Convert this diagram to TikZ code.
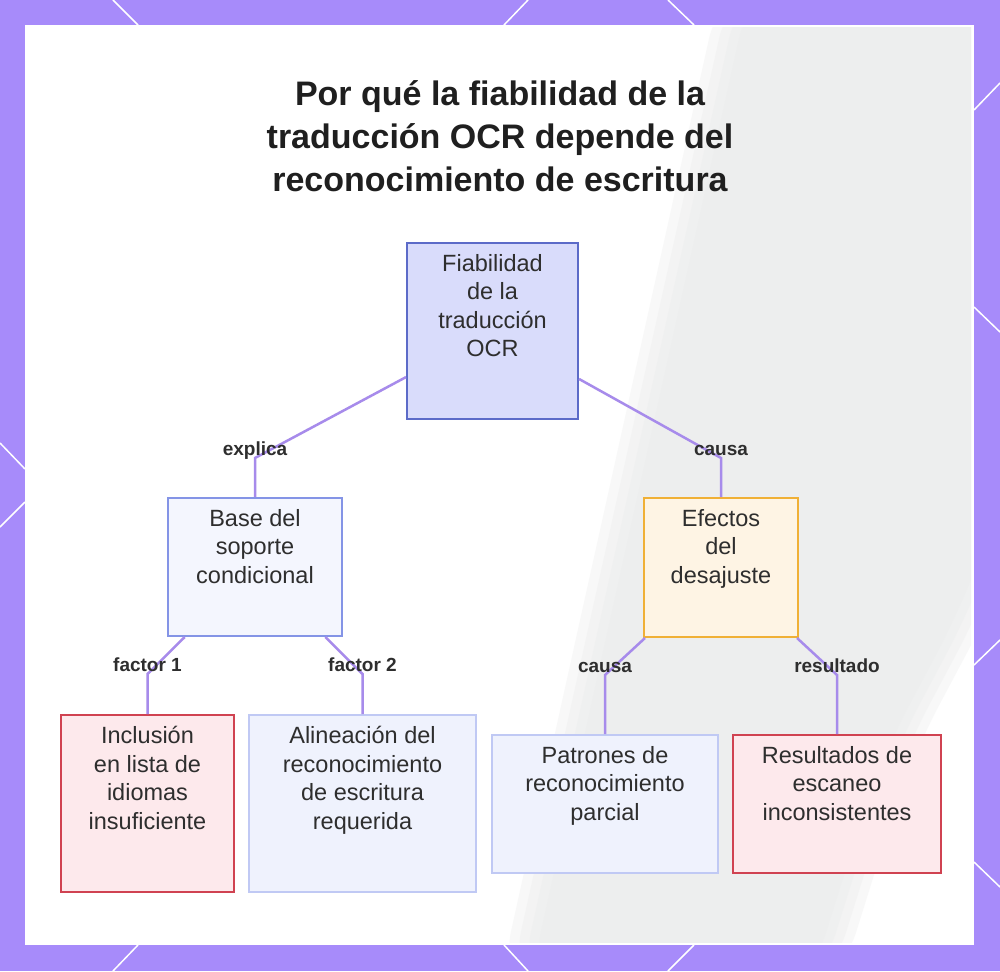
\documentclass[tikz,border=0pt]{standalone}
\usepackage{fontspec}
\setmainfont{Liberation Sans}
\usetikzlibrary{calc}
\definecolor{frame}{HTML}{A78BFA}
\definecolor{linkc}{HTML}{A78BEB}
\definecolor{ink}{HTML}{2E2E2E}
\definecolor{phone}{HTML}{E9EAEA}
\definecolor{topfill}{HTML}{D9DCFB}
\definecolor{topline}{HTML}{5C6BC8}
\definecolor{midfill}{HTML}{F4F6FE}
\definecolor{midline}{HTML}{8494E6}
\definecolor{orfill}{HTML}{FEF4E4}
\definecolor{orline}{HTML}{F0B036}
\definecolor{redfill}{HTML}{FDE9EC}
\definecolor{redline}{HTML}{D04251}
\definecolor{bluefill}{HTML}{EFF2FD}
\definecolor{blueline}{HTML}{C0C9F4}
\tikzstyle{box} = [rectangle, anchor=north west, line width=2pt, inner sep=0]
\tikzstyle{boxtext} = [anchor=north, yshift=-12pt, align=center, inner sep=0, text=ink, font=\fontsize{23.5}{28.5}\selectfont]
\tikzstyle{link} = [line width=2.5pt, draw=linkc]
\tikzstyle{tag} = [anchor=base, yshift=3pt, inner sep=0, text=ink, font=\bfseries\fontsize{19}{20}\selectfont]
\tikzstyle{deco} = [white, line width=1.5pt]

\begin{document}
\begin{tikzpicture}[x=1pt,y=-1pt]
\useasboundingbox (0,0) rectangle (1000,971);
\fill[frame] (0,0) rectangle (1000,971);
\draw[deco] (113,0)--(138,25) (528,0)--(504,25) (668,0)--(694,25);
\draw[deco] (138,945)--(113,971) (504,945)--(528,971) (694,945)--(668,971);
\draw[deco] (0,443)--(25,469) (25,502)--(0,527);
\draw[deco] (1000,83)--(974,110) (974,307)--(1000,332) (1000,640)--(974,665) (974,862)--(1000,887);
\fill[white] (25,25) rectangle (974,945);
% blurred phone behind the chart
\begin{scope}
\clip (28,28) rectangle (971,942);
\foreach \d in {30,20,10,0}
  \fill[phone, fill opacity=0.3, rounded corners=60pt] (752-\d,-20)--(1050,-20)--(1030+\d,420)--(965+\d,600)--(880+\d,760)--(808+\d,990)--(528-\d,990)--cycle;
\end{scope}

\node[font=\bfseries\fontsize{34}{43}\selectfont, text=black!88, align=center, anchor=north, inner sep=0] (title) at (500,80) {Por qué la fiabilidad de la\\traducción OCR depende del\\reconocimiento de escritura};

\node[box, fill=topfill, draw=topline, minimum width=171pt, minimum height=176pt,
  label={[boxtext]north:Fiabilidad\\de la\\traducción\\OCR}] (fiab) at (406,242) {};
\node[box, fill=midfill, draw=midline, minimum width=174pt, minimum height=138pt,
  label={[boxtext]north:Base del\\soporte\\condicional}] (base) at (167,497) {};
\node[box, fill=orfill, draw=orline, minimum width=154pt, minimum height=139pt,
  label={[boxtext]north:Efectos\\del\\desajuste}] (efec) at (643,497) {};
\node[box, fill=redfill, draw=redline, minimum width=173pt, minimum height=177pt,
  label={[boxtext]north:Inclusión\\en lista de\\idiomas\\insuficiente}] (incl) at (60,714) {};
\node[box, fill=bluefill, draw=blueline, minimum width=227pt, minimum height=177pt,
  label={[boxtext]north:Alineación del\\reconocimiento\\de escritura\\requerida}] (alin) at (248,714) {};
\node[box, fill=bluefill, draw=blueline, minimum width=226pt, minimum height=138pt,
  label={[boxtext]north:Patrones de\\reconocimiento\\parcial}] (patr) at (491,734) {};
\node[box, fill=redfill, draw=redline, minimum width=208pt, minimum height=138pt,
  label={[boxtext]north:Resultados de\\escaneo\\inconsistentes}] (resu) at (732,734) {};

\draw[link] (fiab) -- (base |- 0,458) node[tag]{explica} -- (base);
\draw[link] (fiab) -- (efec |- 0,458) node[tag]{causa} -- (efec);
\draw[link] (base) -- (incl |- 0,674) node[tag]{factor 1} -- (incl);
\draw[link] (base) -- (alin |- 0,674) node[tag]{factor 2} -- (alin);
\draw[link] (efec) -- (patr |- 0,675) node[tag]{causa} -- (patr);
\draw[link] (efec) -- (resu |- 0,675) node[tag]{resultado} -- (resu);
\end{tikzpicture}
\end{document}
